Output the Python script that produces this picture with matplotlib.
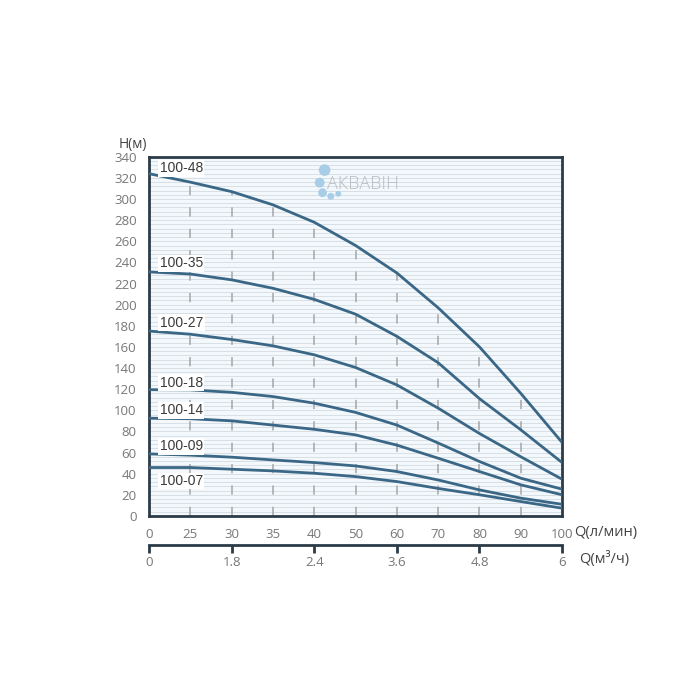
import matplotlib
matplotlib.use("Agg")
import matplotlib.pyplot as plt
import numpy as np

# flow positions (evenly spaced on the chart) and their printed labels
pos = [0, 10, 20, 30, 40, 50, 60, 70, 80, 90, 100]
lpm_labels = ["0", "25", "30", "35", "40", "50", "60", "70", "80", "90", "100"]
m3h_pos = [0, 20, 40, 60, 80, 100]
m3h_labels = ["0", "1.8", "2.4", "3.6", "4.8", "6"]

# head H (m) per model, read at each flow position
models = ["100-48", "100-35", "100-27", "100-18", "100-14", "100-09", "100-07"]
h_48 = [324, 316, 307, 294.5, 278, 256, 230, 197, 160, 116, 69.5]
h_35 = [231, 229, 223.5, 215.5, 205, 191, 170, 145, 111, 81.5, 50.5]
h_27 = [175, 172, 167, 161, 152.5, 140.5, 124, 102, 78, 56, 34.7]
h_18 = [119.5, 119.3, 117, 113, 106.7, 98, 86, 69, 51.5, 35.7, 25.3]
h_14 = [92.5, 92, 90, 86, 82, 76.7, 67, 54.6, 42, 29.4, 20]
h_09 = [58.7, 57.5, 55.6, 53, 50.5, 47.3, 42, 34, 24.6, 16.8, 11]
h_07 = [45.8, 45.8, 44.2, 42.6, 40.4, 37.2, 32.5, 26, 20, 13.6, 7.3]
curves = [h_48, h_35, h_27, h_18, h_14, h_09, h_07]
label_h = [329, 239, 183, 126, 100, 66, 33]

frame = "#2b3b47"
curve_col = "#3b6786"
txt = "#777777"

fig = plt.figure(figsize=(7, 7), dpi=100)
ax = fig.add_axes([0.213, 0.263, 0.590, 0.513])
ax.set_facecolor("#f2f8fc")

# fine horizontal lines
for y in np.arange(4, 340, 4):
    ax.axhline(y, color="#d3dbe1", lw=0.6, zorder=1)

# dashed verticals, from the top curve down
ax.vlines(pos[1:-1], 0, h_48[1:-1], color="#a5a5a5", lw=1.1,
          linestyles=(0, (6, 8)), zorder=2)

for name, h, ly in zip(models, curves, label_h):
    ax.plot(pos, h, color=curve_col, lw=2, zorder=3, solid_joinstyle="round")
    ax.text(2.6, ly, name, fontsize=10, color="#3a3a3a", va="center", ha="left",
            zorder=4, family="Liberation Sans",
            bbox=dict(boxstyle="square,pad=0.1", fc="white", ec="none"))

ax.set_xlim(0, 100)
ax.set_ylim(0, 340)
ax.set_yticks(np.arange(0, 341, 20))
ax.set_xticks(pos)
ax.set_xticklabels(lpm_labels)
ax.tick_params(axis="both", length=0, colors=txt, labelsize=9.5)
ax.tick_params(axis="y", pad=9)
ax.tick_params(axis="x", pad=9)
for lab in ax.get_xticklabels() + ax.get_yticklabels():
    lab.set_family("Open Sans")
for s in ax.spines.values():
    s.set_color(frame)
    s.set_linewidth(2)

ax.text(-0.075, 1.035, "H(м)", transform=ax.transAxes, fontsize=10, color="#444444",
        ha="left", va="center", family="Open Sans")
ax.text(1.03, -0.047, "Q(л/мин)", transform=ax.transAxes, fontsize=10.5,
        color="#444444", ha="left", va="center", family="Open Sans")

# watermark
ax.text(0.43, 0.925, "АКВАВІН", transform=ax.transAxes, fontsize=13,
        color="#b9bcc0", ha="left", va="center", zorder=2, fontweight="light",
        family="Open Sans")
for bx, by, r in [(0.425, 0.963, 70), (0.413, 0.928, 50), (0.42, 0.9, 40),
                  (0.44, 0.89, 25), (0.458, 0.897, 18)]:
    ax.scatter([bx], [by], s=r, color="#a8cde6", transform=ax.transAxes,
               zorder=2, edgecolors="none")

# second flow scale (m3/h)
ax2 = fig.add_axes([0.213, 0.2214, 0.590, 0.0001])
ax2.set_xlim(0, 100)
ax2.set_yticks([])
for k in ["top", "left", "right"]:
    ax2.spines[k].set_visible(False)
ax2.spines["bottom"].set_color(frame)
ax2.spines["bottom"].set_linewidth(2)
ax2.set_xticks(m3h_pos)
ax2.set_xticklabels(m3h_labels)
ax2.tick_params(axis="x", direction="out", length=6, width=2, color=frame,
                colors=txt, labelsize=9.5, pad=2)
for lab in ax2.get_xticklabels():
    lab.set_family("Open Sans")
ax2.patch.set_visible(False)
fig.text(0.828, 0.2014, "Q(м³/ч)", fontsize=10.5, color="#444444", ha="left",
         va="center", family="Open Sans")

fig.savefig("out.png", dpi=100, facecolor="white")
